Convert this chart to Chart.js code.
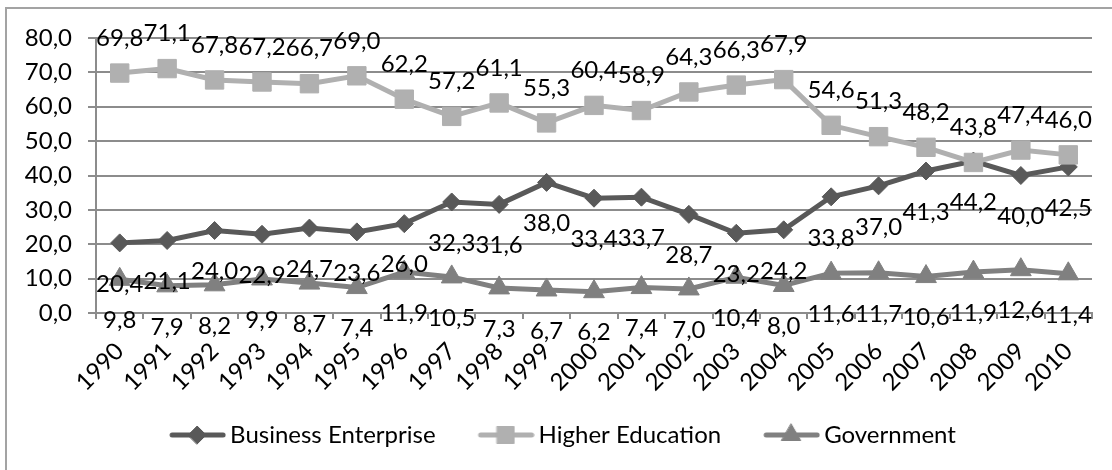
<!DOCTYPE html>
<html>
<head>
<meta charset="utf-8">
<script src="https://cdn.jsdelivr.net/npm/chart.js@4/dist/chart.umd.min.js"></script>
<style>
  html, body { margin: 0; padding: 0; background: #fff; overflow: hidden; }
  #frame {
    position: absolute; left: 5px; top: 7px; width: 2000px; height: 2000px;
    border: 2px solid #a3a3a3;
  }
  #lineChart { position: absolute; left: 0; top: 0; }
</style>
</head>
<body>
<div id="frame"></div>
<canvas id="lineChart" width="1112" height="470"></canvas>
<script>
const years = [
    '1990', '1991', '1992', '1993', '1994', '1995', '1996', '1997', '1998', '1999', '2000',
    '2001', '2002', '2003', '2004', '2005', '2006', '2007', '2008', '2009', '2010'
];
const businessEnterprise = [20.4, 21.1, 24.0, 22.9, 24.7, 23.6, 26.0, 32.3, 31.6, 38.0, 33.4,
    33.7, 28.7, 23.2, 24.2, 33.8, 37.0, 41.3, 44.2, 40.0, 42.5];
const higherEducation = [69.8, 71.1, 67.8, 67.2, 66.7, 69.0, 62.2, 57.2, 61.1, 55.3, 60.4,
    58.9, 64.3, 66.3, 67.9, 54.6, 51.3, 48.2, 43.8, 47.4, 46.0];
const government = [9.8, 7.9, 8.2, 9.9, 8.7, 7.4, 11.9, 10.5, 7.3, 6.7, 6.2,
    7.4, 7.0, 10.4, 8.0, 11.6, 11.7, 10.6, 11.9, 12.6, 11.4];
const yTicks = [0, 10, 20, 30, 40, 50, 60, 70, 80];

const FONT = 'Lato';
const FONT_SIZE = 24;
const darkGray = '#595959';
const lightGray = '#b0b0b0';
const midGray = '#808080';
const gridGray = '#8c8c8c';

const fmt = v => v.toFixed(1).replace('.', ',');

// legend icon: a short line with the marker in the middle
function legendIcon(color, style, radius) {
    const c = document.createElement('canvas');
    c.width = 98;
    c.height = 28;
    const g = c.getContext('2d');
    g.strokeStyle = color;
    g.fillStyle = color;
    g.lineWidth = 5;
    g.lineCap = 'round';
    g.beginPath();
    g.moveTo(c.width - 54, 14);
    g.lineTo(c.width - 3, 14);
    g.stroke();
    g.lineWidth = 1;
    Chart.helpers.drawPoint(g, { pointStyle: style, radius: radius, rotation: 0, borderWidth: 1 }, c.width - 29, 14);
    return c;
}

// value labels above / below each point
const valueLabels = {
    id: 'valueLabels',
    afterDatasetsDraw(chart) {
        const ctx = chart.ctx;
        ctx.save();
        ctx.font = FONT_SIZE + 'px ' + FONT;
        ctx.fillStyle = '#000';
        ctx.textAlign = 'center';
        ctx.textBaseline = 'middle';
        chart.data.datasets.forEach((ds, i) => {
            const meta = chart.getDatasetMeta(i);
            meta.data.forEach((pt, j) => {
                ctx.fillText(fmt(ds.data[j]), pt.x, pt.y + ds.labelOffset);
            });
        });
        ctx.restore();
    }
};

const ctx = document.getElementById('lineChart').getContext('2d');

const lineChart = new Chart(ctx, {
    type: 'line',
    data: {
        labels: years,
        datasets: [
            {
                label: 'Business Enterprise',
                data: businessEnterprise,
                borderColor: darkGray,
                backgroundColor: darkGray,
                borderWidth: 5,
                pointStyle: 'rectRot',
                pointRadius: 9,
                pointBorderWidth: 1,
                order: 1,
                labelOffset: 41,
                icon: legendIcon(darkGray, 'rectRot', 9)
            },
            {
                label: 'Higher Education',
                data: higherEducation,
                borderColor: lightGray,
                backgroundColor: lightGray,
                borderWidth: 5,
                pointStyle: 'rect',
                pointRadius: 13,
                pointBorderWidth: 1,
                order: 0,
                labelOffset: -35,
                icon: legendIcon(lightGray, 'rect', 12)
            },
            {
                label: 'Government',
                data: government,
                borderColor: midGray,
                backgroundColor: midGray,
                borderWidth: 5,
                pointStyle: 'triangle',
                pointRadius: 12,
                pointBorderWidth: 1,
                order: 2,
                labelOffset: 41,
                icon: legendIcon(midGray, 'triangle', 11)
            }
        ]
    },
    options: {
        responsive: false,
        animation: false,
        layout: {
            padding: { top: 38, right: 20, bottom: 13, left: 0 }
        },
        plugins: {
            tooltip: { enabled: false },
            legend: {
                position: 'bottom',
                labels: {
                    color: '#000',
                    font: { family: FONT, size: FONT_SIZE },
                    usePointStyle: true,
                    pointStyleWidth: 82,
                    padding: 9,
                    sort: (a, b) => a.datasetIndex - b.datasetIndex,
                    generateLabels(chart) {
                        const items = Chart.defaults.plugins.legend.labels.generateLabels(chart);
                        items.forEach(it => {
                            it.pointStyle = chart.data.datasets[it.datasetIndex].icon;
                        });
                        return items;
                    }
                }
            }
        },
        scales: {
            x: {
                offset: true,
                grid: {
                    offset: true,
                    drawOnChartArea: false,
                    drawTicks: true,
                    tickLength: 6,
                    color: gridGray,
                    lineWidth: 2
                },
                border: { color: gridGray, width: 2 },
                ticks: {
                    autoSkip: false,
                    maxRotation: 45,
                    minRotation: 45,
                    padding: 18,
                    color: '#000',
                    font: { family: FONT, size: FONT_SIZE }
                },
                afterFit(scale) { scale.height = 101; }
            },
            y: {
                min: 0,
                max: 80,
                afterBuildTicks(scale) {
                    scale.ticks = yTicks.map(v => ({ value: v }));
                },
                grid: {
                    color: gridGray,
                    lineWidth: 2,
                    tickLength: 8
                },
                border: { color: gridGray, width: 2 },
                ticks: {
                    padding: 16,
                    color: '#000',
                    font: { family: FONT, size: FONT_SIZE },
                    callback: v => fmt(v)
                },
                afterFit(scale) { scale.width = 96; }
            }
        }
    },
    plugins: [valueLabels]
});
</script>
</body>
</html>
